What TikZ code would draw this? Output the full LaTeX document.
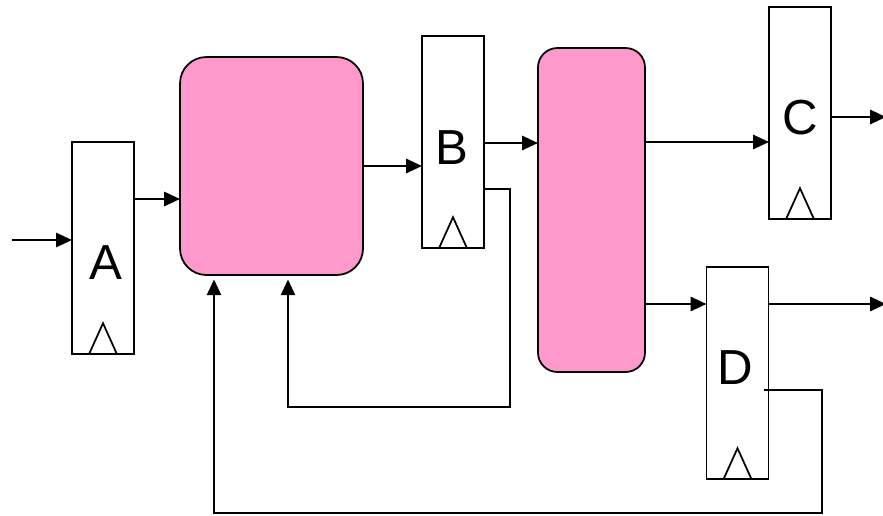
\documentclass[tikz,border=0pt]{standalone}
\usepackage{fontspec}
\setmainfont{Liberation Sans}
\usetikzlibrary{arrows.meta,positioning}
\definecolor{logicpink}{HTML}{FF99CC}

\begin{document}
\begin{tikzpicture}[x=0.02cm,y=-0.02cm,
  reg/.style={draw,line width=1pt,fill=white,inner sep=0pt,outer sep=0pt,minimum width=1.24cm,minimum height=4.25cm},
  logic/.style={draw,line width=1pt,fill=logicpink,inner sep=0pt,outer sep=0pt},
  lbl/.style={font=\fontsize{28}{32}\selectfont},
  arr/.style={line width=1.4pt,-{Triangle[length=9pt,width=8pt]}}]
\useasboundingbox (0,0) rectangle (883,515);

% registers
\node[reg] (regA) at (103,248) {};
\node[reg] (regB) at (453,142) {};
\node[reg] (regC) at (800,113) {};
\node[reg] (regD) at (737.5,373) {};
\node[lbl] at (106,263) {A};
\node[lbl] at (452,148) {B};
\node[lbl] at (800,118) {C};
\node[lbl] at (735,368) {D};
\foreach \r in {regA,regB,regC,regD} {
    \draw[line width=1pt] ([xshift=-0.28cm]\r.south) -- ([yshift=0.62cm]\r.south) -- ([xshift=0.28cm]\r.south);
}

% combinational logic
\node[logic, rounded corners=15pt, minimum width=3.66cm, minimum height=4.36cm] (logic1) at (271.5,166) {};
\node[logic, rounded corners=11pt, minimum width=2.14cm, minimum height=6.48cm] (logic2) at (591.5,210) {};

% forward wires
\coordinate (inA) at (12,240);
\coordinate (outC) at (886,117);
\coordinate (outD) at (886,304);
\draw[arr] (inA) -- (inA -| regA.west);
\draw[arr] (regA.east |- 0,199) -- (logic1.west |- 0,199);
\draw[arr] (logic1.east |- 0,166) -- (regB.west |- 0,166);
\draw[arr] (regB.east |- 0,143) -- (logic2.west |- 0,143);
\draw[arr] (logic2.east |- 0,142) -- (regC.west |- 0,142);
\draw[arr] (regC.east |- outC) -- (outC);
\draw[arr] (logic2.east |- 0,304) -- (regD.west |- 0,304);
\draw[arr] (regD.east |- outD) -- (outD);

% feedback wires
\draw[arr, shorten >=2.5pt] (regB.east |- 0,189) -- (510,189) -- (510,407) -- (288,407) -- (logic1.south -| 288,0);
\draw[arr, shorten >=2.5pt] (764,390) -- (822,390) -- (822,513) -- (214,513) -- (logic1.south -| 214,0);
\end{tikzpicture}
\end{document}
